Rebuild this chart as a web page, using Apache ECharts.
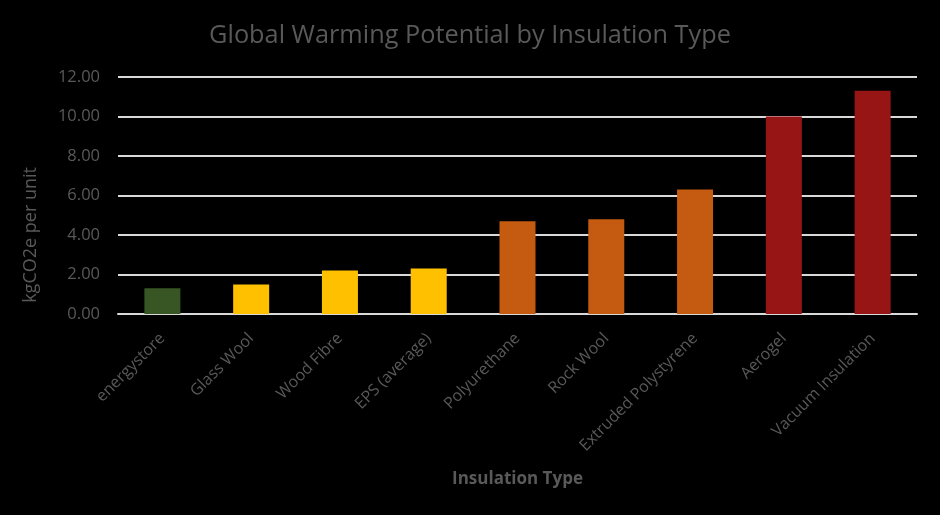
<!DOCTYPE html>
<html><head><meta charset="utf-8">
<script src="https://cdn.jsdelivr.net/npm/echarts@6/dist/echarts.min.js"></script>
<style>html,body{margin:0;padding:0;background:#000;}#c{width:940px;height:515px;}</style>
</head><body><div id="c"></div>
<script>
const categories = ["energystore","Glass Wool","Wood Fibre","EPS (average)","Polyurethane","Rock Wool","Extruded Polystyrene","Aerogel","Vacuum Insulation"];
const values = [1.3, 1.5, 2.2, 2.3, 4.7, 4.8, 6.3, 10.0, 11.3];
const barColors = ["#375623","#FFC000","#FFC000","#FFC000","#C55A11","#C55A11","#C55A11","#981515","#981515"];
const yTicks = {min: 0, max: 12, interval: 2};

const chart = echarts.init(document.getElementById('c'));
chart.setOption({
  backgroundColor: '#000',
  animation: false,
  title: {
    text: 'Global Warming Potential by Insulation Type',
    left: 'center', top: 18,
    textStyle: {color: '#595959', fontFamily: 'Open Sans', fontWeight: 'normal', fontSize: 25.3}
  },
  grid: {left: 118, right: 23, top: 77, bottom: 201},
  xAxis: {
    type: 'category',
    data: categories,
    name: 'Insulation Type',
    nameLocation: 'middle',
    nameGap: 157,
    nameTextStyle: {color: '#595959', fontFamily: 'Open Sans', fontWeight: 'bold', fontSize: 17},
    axisLine: {lineStyle: {color: '#d9d9d9', width: 2}},
    axisTick: {show: false},
    axisLabel: {rotate: 45, color: '#595959', fontFamily: 'Open Sans', fontSize: 16, interval: 0, margin: 22}
  },
  yAxis: {
    type: 'value',
    min: yTicks.min, max: yTicks.max, interval: yTicks.interval,
    axisLine: {show: false},
    axisTick: {show: false},
    splitLine: {lineStyle: {color: '#d9d9d9', width: 2}},
    axisLabel: {color: '#595959', fontFamily: 'Open Sans', fontSize: 16.5, margin: 18,
      formatter: v => v.toFixed(2)}
  },
  graphic: [{
    type: 'text', left: 22, top: 167, rotation: Math.PI/2,
    style: {text: 'kgCO2e per unit', fill: '#595959', font: '18px "Open Sans"'}
  }],
  series: [{
    type: 'bar',
    barWidth: 36,
    data: values.map((v, i) => ({value: v, itemStyle: {color: barColors[i]}}))
  }]
});
</script></body></html>
